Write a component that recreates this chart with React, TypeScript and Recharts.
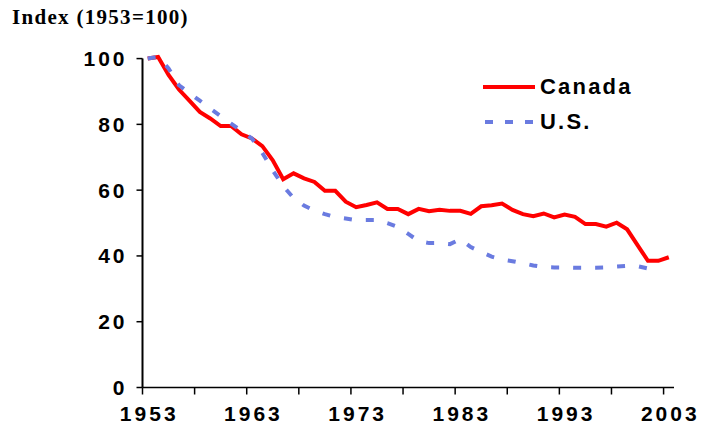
import React from 'react';
import { LineChart, Line, XAxis, YAxis, ReferenceLine, Legend } from 'recharts';

// one entry per year, 1953..2003
const years = [
  1953, 1954, 1955, 1956, 1957, 1958, 1959, 1960, 1961, 1962,
  1963, 1964, 1965, 1966, 1967, 1968, 1969, 1970, 1971, 1972,
  1973, 1974, 1975, 1976, 1977, 1978, 1979, 1980, 1981, 1982,
  1983, 1984, 1985, 1986, 1987, 1988, 1989, 1990, 1991, 1992,
  1993, 1994, 1995, 1996, 1997, 1998, 1999, 2000, 2001, 2002,
  2003,
];

const canada = [
  100, 100.5, 95, 90.6, 87.2, 83.8, 81.8, 79.5, 79.5, 77,
  75.7, 73.4, 69.1, 63.3, 65.1, 63.6, 62.5, 59.8, 59.8, 56.5,
  54.8, 55.5, 56.3, 54.3, 54.3, 52.7, 54.3, 53.6, 54.0, 53.7,
  53.7, 52.8, 55.1, 55.4, 55.9, 54.0, 52.7, 52.1, 52.9, 51.7,
  52.6, 51.9, 49.7, 49.7, 48.9, 50.1, 48.1, 43.3, 38.5, 38.5,
  39.6,
];

// U.S. series stops at 2001
const us = [
  100, 100.5, 97, 91.9, 89.5, 87.2, 84.8, 82.5, 80.2, 78,
  75.7, 71.3, 66, 61.2, 57.6, 55.3, 53.8, 52.7, 51.8, 51.4,
  50.9, 50.9, 50.9, 50, 48.8, 46.7, 44.5, 43.9, 43.9, 43.6,
  45.1, 42.7, 41.2, 39.8, 38.9, 38.4, 37.8, 37.1, 36.6, 36.5,
  36.5, 36.4, 36.4, 36.4, 36.5, 36.8, 37.0, 36.9, 36.2,
];

const yTicks = [0, 20, 40, 60, 80, 100];
const xLabels = [1953, 1963, 1973, 1983, 1993, 2003];

const W = 713;
const H = 433;
const MARGIN = { top: 52, right: 39, bottom: 0, left: 0 };
const Y_AXIS_W = 142.5;
const X_AXIS_H = 45.5;
// years sit in the middle of their slot, tick marks on the slot edges
const HALF_SLOT = (W - MARGIN.right - Y_AXIS_W) / years.length / 2;

const tickMarks = years.filter((_, i) => i % 5 === 0).map((y) => y - 0.5);

const data = years.map((year, i) => ({ year, canada: canada[i], us: us[i] }));

const AXIS_FONT = {
  fontFamily: 'Arial, "Liberation Sans", sans-serif',
  fontWeight: 'bold' as const,
  fontSize: 21,
  letterSpacing: 3,
};

const XTick = (props: any) => {
  const { x, y, payload } = props;
  const year = payload.value + 0.5;
  if (!xLabels.includes(year)) return <g />;
  return (
    <text x={x + HALF_SLOT + 1.5} y={y + 24} textAnchor="middle" fill="#000" style={AXIS_FONT}>
      {year}
    </text>
  );
};

const YTick = (props: any) => {
  const { x, y, payload } = props;
  return (
    <text x={x + 3} y={y} dy="0.36em" textAnchor="end" fill="#000" style={AXIS_FONT}>
      {payload.value}
    </text>
  );
};

const renderLegend = (props: any) => (
  <div>
    {props.payload.map((p: any) => (
      <div key={p.value} style={{ display: 'flex', alignItems: 'center', height: 35 }}>
        <svg width={57} height={10}>
          <line
            x1={p.value === 'U.S.' ? 2 : 0}
            y1={5}
            x2={52}
            y2={5}
            stroke={p.color}
            strokeWidth={4}
            strokeDasharray={p.value === 'U.S.' ? '8 12' : undefined}
          />
        </svg>
        <span style={{ ...AXIS_FONT, fontSize: 22, letterSpacing: 2.2, color: '#000', lineHeight: '22px' }}>
          {p.value}
        </span>
      </div>
    ))}
  </div>
);

export default function App() {
  return (
    <div style={{ position: 'absolute', left: 0, top: 0, width: W, height: H, background: '#fff' }}>
      <div
        style={{
          position: 'absolute',
          left: 12,
          top: 5,
          fontFamily: '"Liberation Serif", "Times New Roman", serif',
          fontWeight: 'bold',
          fontSize: 21,
          letterSpacing: 1.3,
          lineHeight: '24px',
          color: '#000',
        }}
      >
        Index (1953=100)
      </div>
      <LineChart width={W} height={H} data={data} margin={MARGIN}>
        <XAxis
          dataKey="year"
          type="number"
          domain={[1952.5, 2003.5]}
          ticks={tickMarks}
          interval={0}
          height={X_AXIS_H}
          tick={<XTick />}
          tickSize={7}
          stroke="#000"
          strokeWidth={1.5}
        />
        <YAxis
          type="number"
          domain={[0, 102]}
          ticks={yTicks}
          interval={0}
          width={Y_AXIS_W}
          axisLine={false}
          tickSize={6}
          tickMargin={12}
          tick={<YTick />}
          stroke="#000"
          strokeWidth={1.5}
        />
        <ReferenceLine
          segment={[
            { x: 1952.5, y: 0 },
            { x: 1952.5, y: 100 },
          ]}
          stroke="#000"
          strokeWidth={2}
        />
        <Legend
          layout="vertical"
          align="center"
          verticalAlign="middle"
          content={renderLegend}
          wrapperStyle={{ left: 483, top: 69.5, width: 'auto' }}
        />
        <Line
          dataKey="canada"
          name="Canada"
          stroke="#ff0000"
          strokeWidth={4}
          dot={false}
          isAnimationActive={false}
        />
        <Line
          dataKey="us"
          name="U.S."
          stroke="#6a7be0"
          strokeWidth={4}
          strokeDasharray="8 14"
          dot={false}
          isAnimationActive={false}
        />
      </LineChart>
    </div>
  );
}
